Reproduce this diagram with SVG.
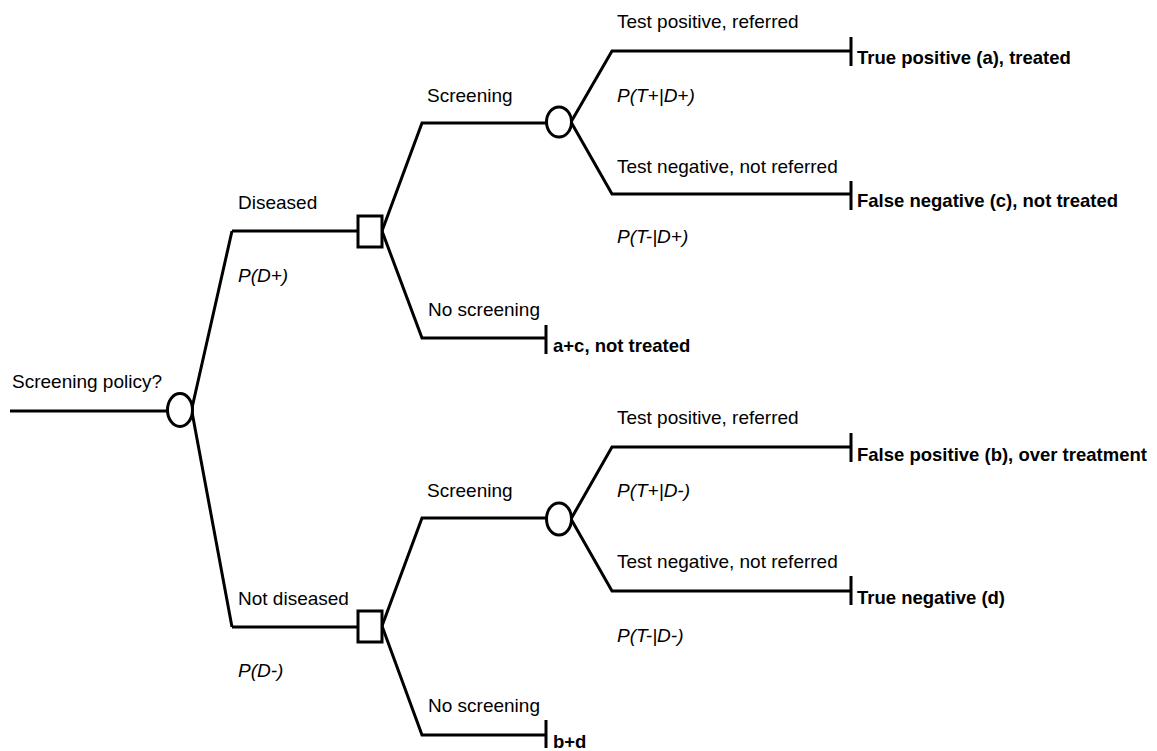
<svg xmlns="http://www.w3.org/2000/svg" width="1157" height="751" viewBox="0 0 1157 751">
  <style>
    .edge { fill: none; stroke: #000; stroke-width: 3; stroke-linejoin: miter; }
    .node { fill: #fff; stroke: #000; stroke-width: 3; }
    .lbl { font-family: "Liberation Sans", Arial, sans-serif; font-size: 19px; fill: #000; }
    .prob { font-family: "Liberation Sans", Arial, sans-serif; font-size: 19px; font-style: italic; fill: #000; }
    .out { font-family: "Liberation Sans", Arial, sans-serif; font-size: 18.5px; font-weight: bold; fill: #000; }
  </style>
  <rect width="1157" height="751" fill="#fff"/>

  <!-- branches -->
  <g id="connectors">
    <path class="edge" d="M10 411 H168"/>
    <path class="edge" d="M232 231 L192 408 M192 412 L232 627"/>
    <path class="edge" d="M232 231 H358"/>
    <path class="edge" d="M232 627 H358"/>
    <!-- diseased arm -->
    <path class="edge" d="M382 231 L422 123 H547"/>
    <path class="edge" d="M382 231 L422 338 H546"/>
    <path class="edge" d="M571 122 L612 51 H851"/>
    <path class="edge" d="M571 122 L612 194 H851"/>
    <!-- not diseased arm -->
    <path class="edge" d="M382 626 L422 518 H547"/>
    <path class="edge" d="M382 626 L422 735 H546"/>
    <path class="edge" d="M571 519 L612 447 H851"/>
    <path class="edge" d="M571 519 L612 591 H851"/>
    <!-- terminal ticks -->
    <path class="edge" d="M851 37 V66 M851 181 V210 M546 325 V354 M851 433 V462 M851 576 V605 M546 720 V748"/>
  </g>

  <g id="root">
    <ellipse class="node" cx="180" cy="410" rx="12.5" ry="16.5"/>
    <text class="lbl" x="12" y="388">Screening policy?</text>
  </g>

  <g id="diseased">
    <rect class="node" x="358" y="216" width="24" height="31"/>
    <text class="lbl" x="238" y="209">Diseased</text>
    <text class="prob" x="238" y="282">P(D+)</text>
  </g>

  <g id="diseased-screening">
    <ellipse class="node" cx="559" cy="122" rx="12.5" ry="15"/>
    <text class="lbl" x="427" y="102">Screening</text>
    <text class="lbl" x="617" y="28">Test positive, referred</text>
    <text class="prob" x="617" y="102">P(T+|D+)</text>
    <text class="lbl" x="617" y="173">Test negative, not referred</text>
    <text class="prob" x="617" y="243">P(T-|D+)</text>
  </g>

  <g id="outcome-tp">
    <text class="out" x="857" y="64">True positive (a), treated</text>
  </g>
  <g id="outcome-fn">
    <text class="out" x="857" y="207">False negative (c), not treated</text>
  </g>
  <g id="diseased-no-screening">
    <text class="lbl" x="428" y="316">No screening</text>
    <text class="out" x="553" y="352">a+c, not treated</text>
  </g>

  <g id="not-diseased">
    <rect class="node" x="358" y="611" width="24" height="31"/>
    <text class="lbl" x="238" y="605">Not diseased</text>
    <text class="prob" x="238" y="677">P(D-)</text>
  </g>

  <g id="not-diseased-screening">
    <ellipse class="node" cx="559" cy="519" rx="12.5" ry="16"/>
    <text class="lbl" x="427" y="497">Screening</text>
    <text class="lbl" x="617" y="424">Test positive, referred</text>
    <text class="prob" x="617" y="497">P(T+|D-)</text>
    <text class="lbl" x="617" y="568">Test negative, not referred</text>
    <text class="prob" x="617" y="642">P(T-|D-)</text>
  </g>

  <g id="outcome-fp">
    <text class="out" x="857" y="461">False positive (b), over treatment</text>
  </g>
  <g id="outcome-tn">
    <text class="out" x="857" y="604">True negative (d)</text>
  </g>
  <g id="not-diseased-no-screening">
    <text class="lbl" x="428" y="712">No screening</text>
    <text class="out" x="553" y="748">b+d</text>
  </g>
</svg>
